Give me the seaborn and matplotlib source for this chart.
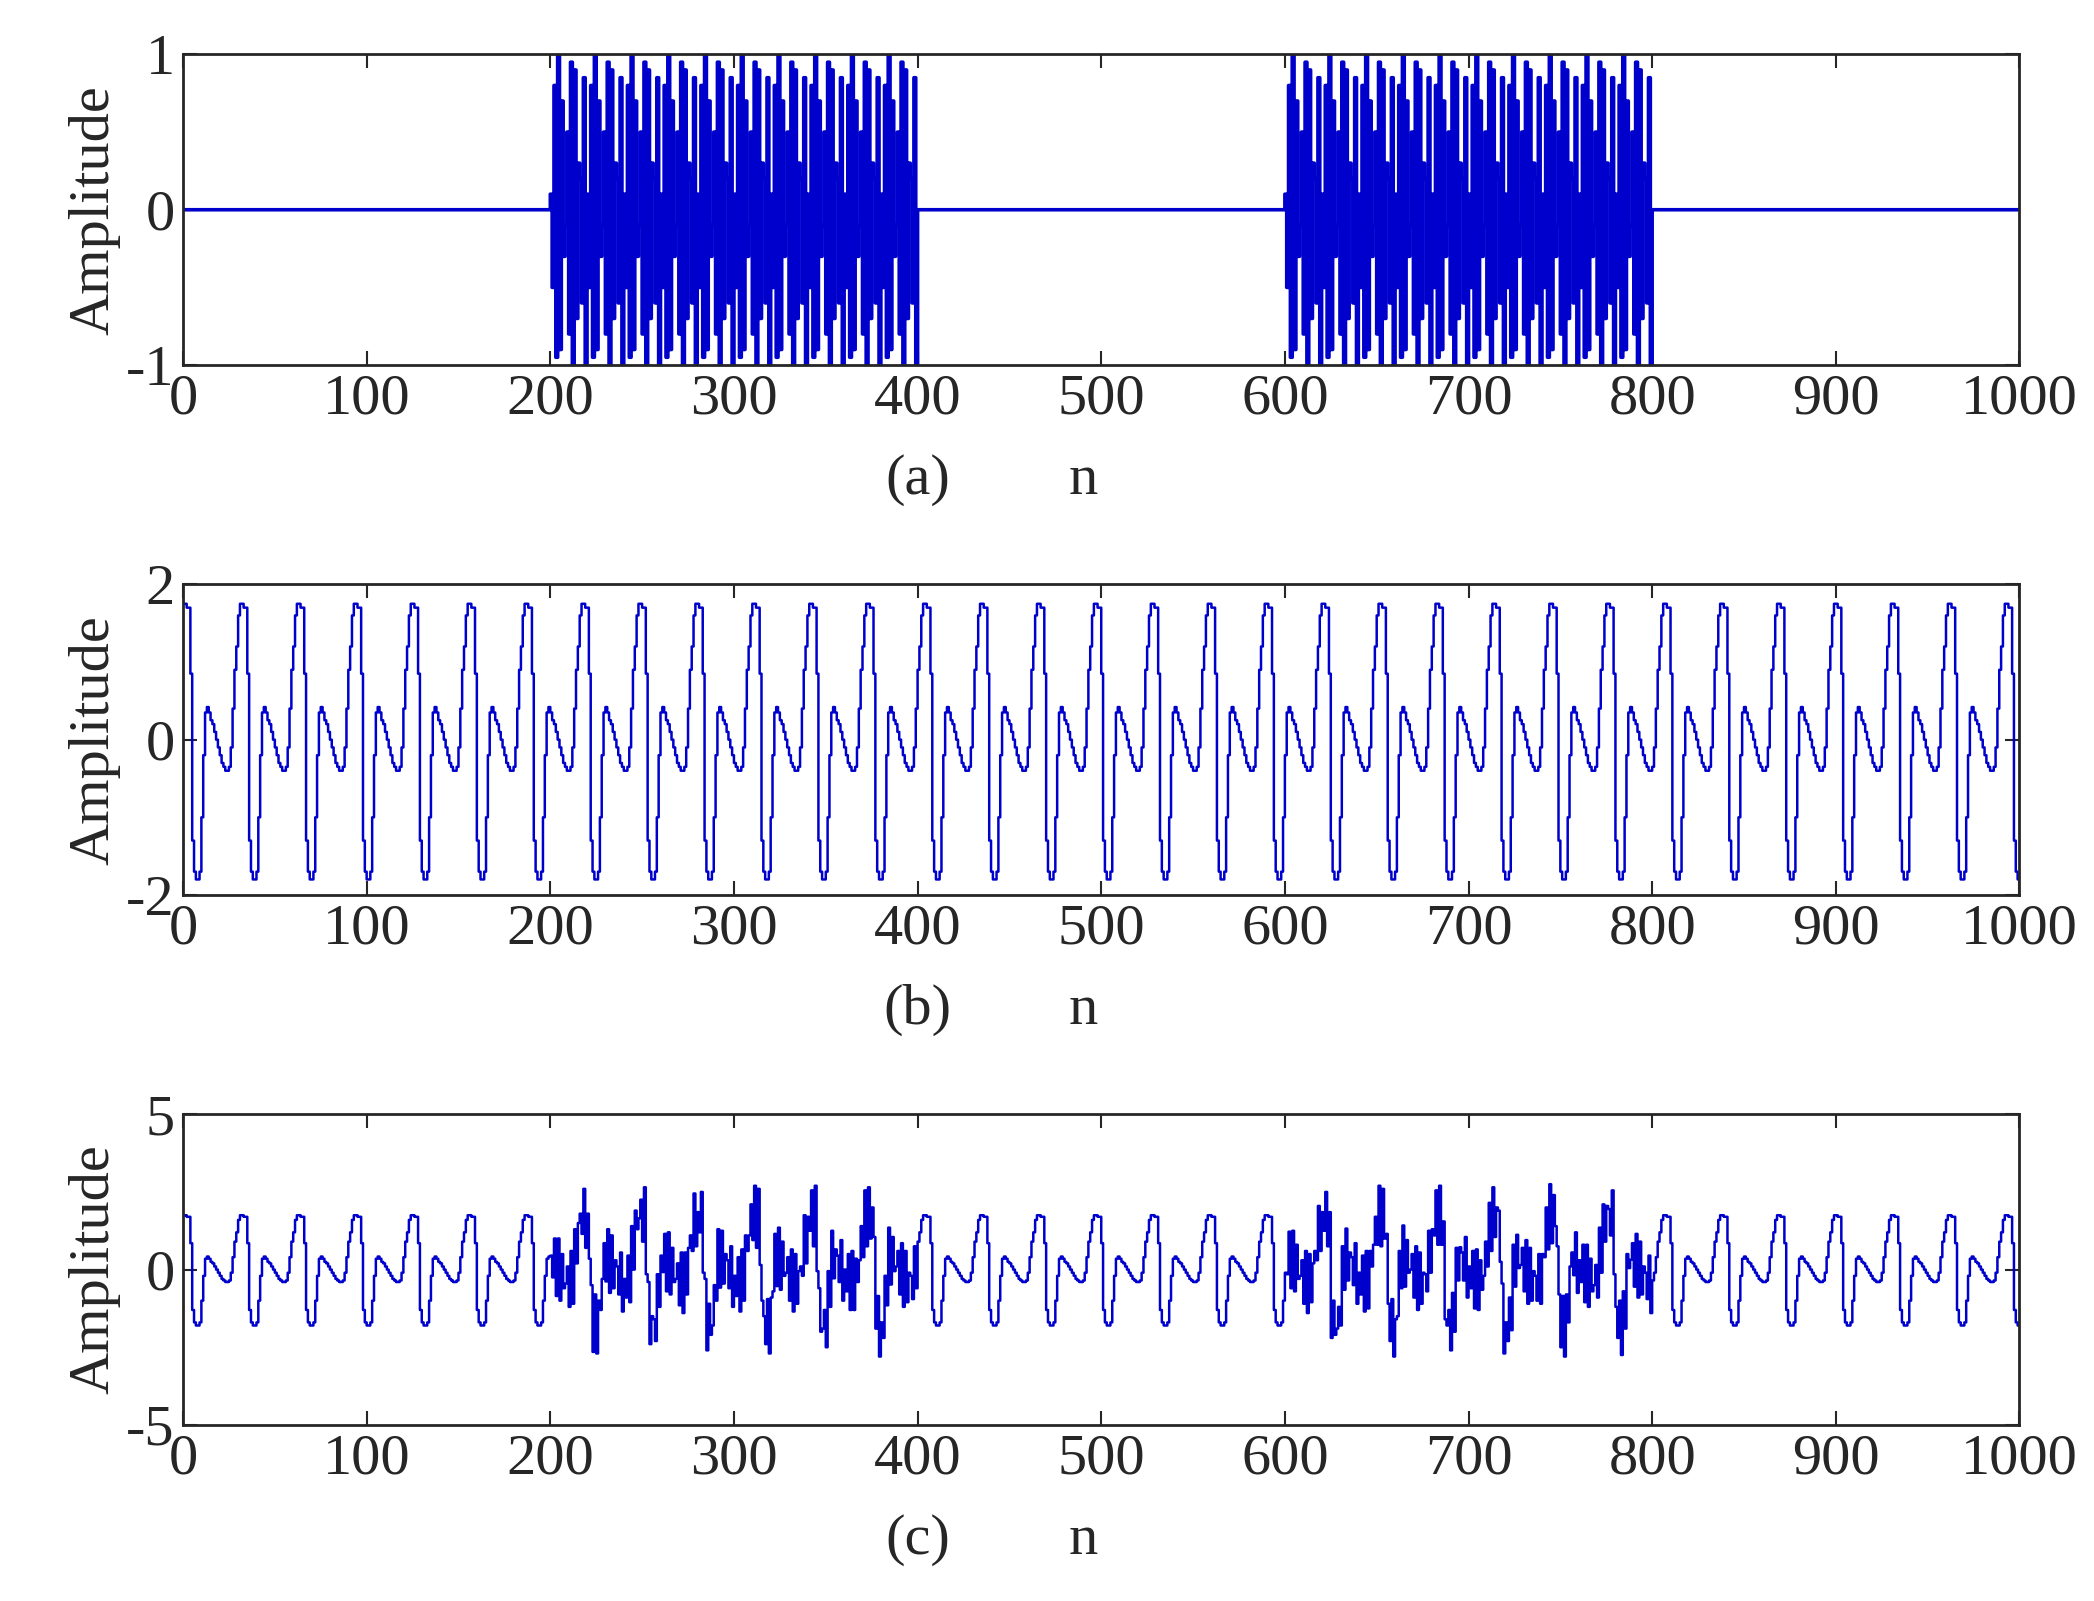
import numpy as np
import pandas as pd
import matplotlib
matplotlib.use("Agg")
import matplotlib.pyplot as plt
import seaborn as sns

sns.set_style("ticks")
plt.rcParams['font.family'] = ['Liberation Serif', 'DejaVu Serif']
plt.rcParams['axes.unicode_minus'] = False

# one period of signal (b) (31 samples)
b_period = [1.75, 1.75, 1.7, 1.7, 0.85, -1.3, -1.7, -1.8, -1.8, -1.7, -1.0, -0.2,
            0.35, 0.42, 0.35, 0.25, 0.2, 0.1, 0.0, -0.1, -0.2, -0.3, -0.35, -0.4,
            -0.4, -0.35, -0.1, 0.4, 0.9, 1.2, 1.6]
# one beat period of the fast burst carrier in (a)
a_period = [0.1, -0.5, 0.8, -0.95, 1.0, -0.9, 0.7, -0.3, -0.1, 0.5, -0.8, 0.95,
            -1.0, 0.9, -0.7, 0.3, 0.2, -0.6, 0.85, -1.0]
burst_ranges = [(200, 400), (600, 800)]
N = 1000

n = np.arange(N + 1)
b = np.resize(np.array(b_period), N + 1)
a = np.zeros(N + 1)
for s, e in burst_ranges:
    a[s:e] = np.resize(np.array(a_period), e - s)
c = a + b

panels = [(a, "(a)", (-1, 1), [-1, 0, 1], 2.6),
          (b, "(b)", (-2, 2), [-2, 0, 2], 1.8),
          (c, "(c)", (-5, 5), [-5, 0, 5], 1.8)]
bottoms = [0.772, 0.441, 0.11]
xticks = list(range(0, 1001, 100))
FS = 42

fig = plt.figure(figsize=(20.94, 16.01), dpi=100)
for (sig, lab, ylim, yt, lw), bot in zip(panels, bottoms):
    ax = fig.add_axes([0.0874, bot, 0.877, 0.194])
    df = pd.DataFrame({"n": n, "y": sig})
    sns.lineplot(data=df, x="n", y="y", ax=ax, color="#0000CC", linewidth=lw,
                 drawstyle="steps-post", estimator=None)
    ax.set_xlim(0, 1000)
    ax.set_ylim(*ylim)
    ax.set_xticks(xticks)
    ax.set_yticks(yt)
    ax.tick_params(direction="in", top=True, right=True, labelsize=FS, length=10, width=1.5, pad=6)
    for sp in ax.spines.values():
        sp.set_linewidth(2)
    ax.set_ylabel("Amplitude", fontsize=FS, labelpad=4)
    ax.set_xlabel("")
    ax.text(0.49, -0.37, "n", transform=ax.transAxes, fontsize=FS, ha="center", va="center")
    ax.text(0.4, -0.37, lab, transform=ax.transAxes, fontsize=FS, ha="center", va="center")
fig.savefig("out.png", dpi=100)
